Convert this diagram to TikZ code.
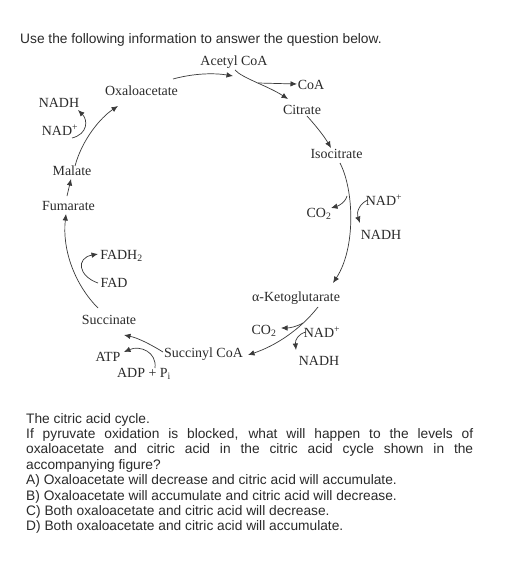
\documentclass[tikz,border=0pt]{standalone}
\usepackage{fontspec}
\setmainfont{Liberation Serif}
\newfontfamily\qfont{Liberation Sans}
\usetikzlibrary{arrows.meta}
\definecolor{ink}{HTML}{2A2A2A}
\definecolor{lineink}{HTML}{3A3A3A}
\tikzset{
  lbl/.style={inner sep=0pt, text=ink, font=\fontsize{14}{16}\selectfont},
  qline/.style={inner sep=0pt, anchor=base west, text=ink, font=\qfont\fontsize{13.8}{15.4}\selectfont},
  conn/.style={draw=lineink, line width=0.7bp, -{Latex[length=6.5bp,width=5.5bp]}},
  plain/.style={draw=lineink, line width=0.7bp}
}
\begin{document}
\begin{tikzpicture}[x=1bp,y=-1bp]
\useasboundingbox[fill=white] (0,0) rectangle (507,570);
% title
\node[qline] (q0) at (20,44) {Use the following information to answer the question below.};
% labels
\node[lbl] (acetyl) at (234,62) {Acetyl CoA};
\node[lbl] (oxa) at (141.5,90.5) {Oxaloacetate};
\node[lbl] (coa) at (311,84.5) {CoA};
\node[lbl] (citrate) at (302,110) {Citrate};
\node[lbl] (nadhL) at (59,102.5) {NADH};
\node[lbl] (nadL) at (60,130) {NAD\textsuperscript{+}};
\node[lbl] (malate) at (72,171) {Malate};
\node[lbl] (fumarate) at (68.5,206) {Fumarate};
\node[lbl] (isocitrate) at (336.5,154) {Isocitrate};
\node[lbl] (co2a) at (319,214) {CO\textsubscript{2}};
\node[lbl] (nadR) at (384,200) {NAD\textsuperscript{+}};
\node[lbl] (nadhR) at (381,235) {NADH};
\node[lbl] (fadh2) at (121.5,256) {FADH\textsubscript{2}};
\node[lbl] (fad) at (114,283) {FAD};
\node[lbl] (succinate) at (109,320) {Succinate};
\node[lbl] (akg) at (296,298) {α-Ketoglutarate};
\node[lbl] (co2b) at (264,331) {CO\textsubscript{2}};
\node[lbl] (nadR2) at (322,332) {NAD\textsuperscript{+}};
\node[lbl] (nadhR2) at (319,361) {NADH};
\node[lbl] (succoa) at (203.5,354) {Succinyl CoA};
\node[lbl] (atp) at (108,357) {ATP};
\node[lbl] (adp) at (144,374) {ADP + P\textsubscript{i}};
% connector end points
\coordinate (oxaOut) at (173,79);
\coordinate (acIn) at (233,76);
\coordinate (acOut) at (235,70);
\coordinate (brA) at (258,83);
\coordinate (citIn) at (288,99);
\coordinate (coaIn) at (297,84);
\coordinate (citOut) at (307,116);
\coordinate (isoIn) at (331,148);
\coordinate (isoOut) at (340,163);
\coordinate (brB) at (347,196);
\coordinate (co2aIn) at (331,208);
\coordinate (akgIn) at (333,283);
\coordinate (nadROut) at (368,200);
\coordinate (nadhRIn) at (360,223);
\coordinate (akgOut) at (318,307);
\coordinate (brC) at (303,323);
\coordinate (co2bIn) at (281,328);
\coordinate (scIn) at (248,355);
\coordinate (nadR2Out) at (306,332);
\coordinate (nadhR2In) at (296,350);
\coordinate (scOut) at (163,352);
\coordinate (sucIn) at (124,335);
\coordinate (adpOut) at (155,368);
\coordinate (atpIn) at (124,352);
\coordinate (sucOut) at (98,308);
\coordinate (fumIn) at (66,214);
\coordinate (fadOut) at (98,283);
\coordinate (fadhIn) at (98,254);
\coordinate (fumOut) at (67,196);
\coordinate (malIn) at (71,179);
\coordinate (malOut) at (75,166);
\coordinate (oxaIn) at (118,106);
\coordinate (nadLOut) at (72,138);
\coordinate (nadhLIn) at (78,110);
% connectors
\draw[conn] (oxaOut) .. controls (195,73) and (215,73) .. (acIn);
\draw[conn] (acOut) .. controls (242,78) and (268,86) .. (citIn);
\draw[conn] (brA) -- (coaIn);
\draw[conn] (citOut) .. controls (316,126) and (324,136) .. (isoIn);
\draw[conn] (isoOut) .. controls (354,190) and (356,248) .. (akgIn);
\draw[conn] (brB) .. controls (345,203) and (338,206) .. (co2aIn);
\draw[conn] (nadROut) .. controls (360,203) and (356,212) .. (nadhRIn);
\draw[conn] (akgOut) .. controls (300,330) and (275,346) .. (scIn);
\draw[conn] (brC) .. controls (296,327) and (289,328) .. (co2bIn);
\draw[conn] (nadR2Out) .. controls (298,334) and (295,340) .. (nadhR2In);
\draw[conn] (scOut) .. controls (150,344) and (138,338) .. (sucIn);
\draw[conn] (adpOut) .. controls (157,352) and (140,345) .. (atpIn);
\draw[conn] (sucOut) .. controls (75,285) and (62,250) .. (fumIn);
\draw[conn] (fadOut) .. controls (78,276) and (76,258) .. (fadhIn);
\draw[conn] (fumOut) -- (malIn);
\draw[conn] (malOut) .. controls (82,140) and (100,118) .. (oxaIn);
\draw[conn] (nadLOut) .. controls (88,134) and (88,120) .. (nadhLIn);
% question text
\node[qline] (q1) at (26,423) {The citric acid cycle.};
\node[qline] (q2) at (26,438.4) {\makebox[447bp][s]{If pyruvate oxidation is blocked, what will happen to the levels of}};
\node[qline] (q3) at (26,453.8) {\makebox[447bp][s]{oxaloacetate and citric acid in the citric acid cycle shown in the}};
\node[qline] (q4) at (26,469.2) {accompanying figure?};
\node[qline] (q5) at (26,484.6) {A) Oxaloacetate will decrease and citric acid will accumulate.};
\node[qline] (q6) at (26,500) {B) Oxaloacetate will accumulate and citric acid will decrease.};
\node[qline] (q7) at (26,515.4) {C) Both oxaloacetate and citric acid will decrease.};
\node[qline] (q8) at (26,530.8) {D) Both oxaloacetate and citric acid will accumulate.};
\end{tikzpicture}
\end{document}
